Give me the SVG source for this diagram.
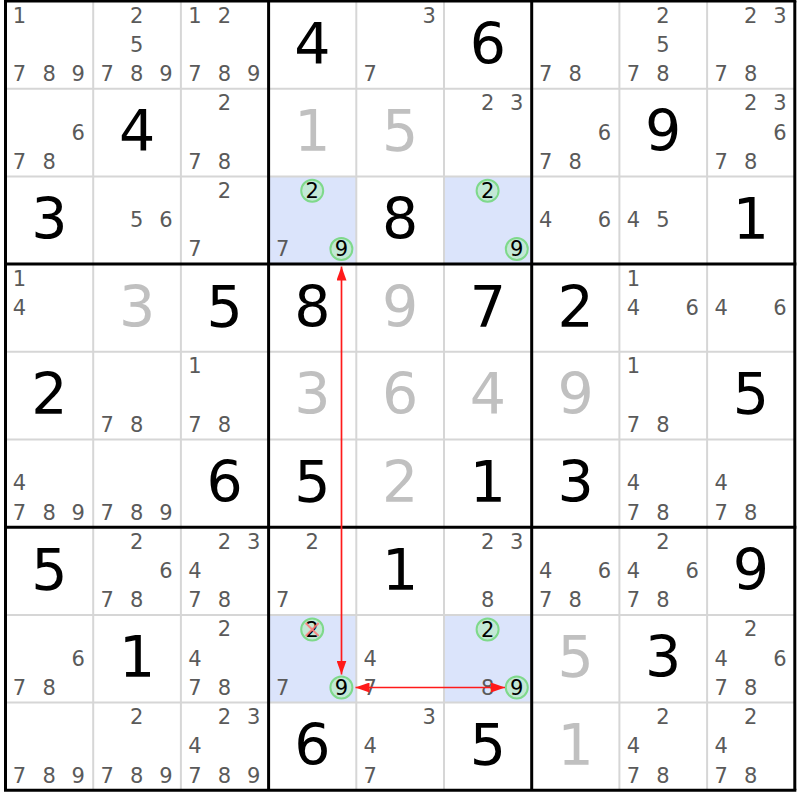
<svg xmlns="http://www.w3.org/2000/svg" width="800" height="800" viewBox="0 0 800 800">
<style>
text{font-family:"DejaVu Sans","Liberation Sans",sans-serif;text-anchor:middle}
.g{font-size:57px;fill:#000}
.s{font-size:57px;fill:#c0c0c0}
.c{font-size:21px;fill:#5a5a5a}
.k{font-size:21px;fill:#000}
.thin{stroke:#d6d6d6;stroke-width:2}
.thick{stroke:#000;stroke-width:3}
.hl{fill:#dbe4fb}
.ring{fill:#c3e8d6;stroke:#7fd98b;stroke-width:2}
.x{stroke:#ff7a7a;stroke-width:2;opacity:0.85}
.arrow{stroke:#ff1a1a;stroke-width:1.7;fill:none}
</style>
<defs>
<marker id="ah" markerUnits="userSpaceOnUse" markerWidth="14" markerHeight="10" refX="14" refY="5" orient="auto-start-reverse">
<path d="M0,0 L14,5 L0,10 z" fill="#ff1a1a"/>
</marker>
</defs>
<rect x="0" y="0" width="800" height="800" fill="#fff"/>
<g id="highlights">
<rect class="hl" x="268.6" y="176.4" width="87.7" height="87.7"/>
<rect class="hl" x="444" y="176.4" width="87.7" height="87.7"/>
<rect class="hl" x="268.6" y="614.9" width="87.7" height="87.7"/>
<rect class="hl" x="444" y="614.9" width="87.7" height="87.7"/>
</g>
<g id="grid">
<line class="thin" x1="93.2" y1="1" x2="93.2" y2="790.3"/>
<line class="thin" x1="180.9" y1="1" x2="180.9" y2="790.3"/>
<line class="thin" x1="356.3" y1="1" x2="356.3" y2="790.3"/>
<line class="thin" x1="444" y1="1" x2="444" y2="790.3"/>
<line class="thin" x1="619.4" y1="1" x2="619.4" y2="790.3"/>
<line class="thin" x1="707.1" y1="1" x2="707.1" y2="790.3"/>
<line class="thin" x1="5.5" y1="88.7" x2="794.8" y2="88.7"/>
<line class="thin" x1="5.5" y1="176.4" x2="794.8" y2="176.4"/>
<line class="thin" x1="5.5" y1="351.8" x2="794.8" y2="351.8"/>
<line class="thin" x1="5.5" y1="439.5" x2="794.8" y2="439.5"/>
<line class="thin" x1="5.5" y1="614.9" x2="794.8" y2="614.9"/>
<line class="thin" x1="5.5" y1="702.6" x2="794.8" y2="702.6"/>
<line class="thick" x1="5.5" y1="1" x2="5.5" y2="790.3"/>
<line class="thick" x1="268.6" y1="1" x2="268.6" y2="790.3"/>
<line class="thick" x1="531.7" y1="1" x2="531.7" y2="790.3"/>
<line class="thick" x1="794.8" y1="1" x2="794.8" y2="790.3"/>
<line class="thick" x1="4" y1="1" x2="796.3" y2="1"/>
<line class="thick" x1="4" y1="264.1" x2="796.3" y2="264.1"/>
<line class="thick" x1="4" y1="527.2" x2="796.3" y2="527.2"/>
<line class="thick" x1="4" y1="790.3" x2="796.3" y2="790.3"/>
</g>

<g id="r0c0" transform="translate(5.5,1)"><text class="c" x="14" y="21.6">1</text><text class="c" x="14" y="80.1">7</text><text class="c" x="43.6" y="80.1">8</text><text class="c" x="72.8" y="80.1">9</text></g>
<g id="r0c1" transform="translate(93.2,1)"><text class="c" x="43.6" y="21.6">2</text><text class="c" x="43.6" y="50.9">5</text><text class="c" x="14" y="80.1">7</text><text class="c" x="43.6" y="80.1">8</text><text class="c" x="72.8" y="80.1">9</text></g>
<g id="r0c2" transform="translate(180.9,1)"><text class="c" x="14" y="21.6">1</text><text class="c" x="43.6" y="21.6">2</text><text class="c" x="14" y="80.1">7</text><text class="c" x="43.6" y="80.1">8</text><text class="c" x="72.8" y="80.1">9</text></g>
<g id="r0c3" transform="translate(268.6,1)"><text class="g" x="43.85" y="62.5">4</text></g>
<g id="r0c4" transform="translate(356.3,1)"><text class="c" x="72.8" y="21.6">3</text><text class="c" x="14" y="80.1">7</text></g>
<g id="r0c5" transform="translate(444,1)"><text class="g" x="43.85" y="62.5">6</text></g>
<g id="r0c6" transform="translate(531.7,1)"><text class="c" x="14" y="80.1">7</text><text class="c" x="43.6" y="80.1">8</text></g>
<g id="r0c7" transform="translate(619.4,1)"><text class="c" x="43.6" y="21.6">2</text><text class="c" x="43.6" y="50.9">5</text><text class="c" x="14" y="80.1">7</text><text class="c" x="43.6" y="80.1">8</text></g>
<g id="r0c8" transform="translate(707.1,1)"><text class="c" x="43.6" y="21.6">2</text><text class="c" x="72.8" y="21.6">3</text><text class="c" x="14" y="80.1">7</text><text class="c" x="43.6" y="80.1">8</text></g>

<g id="r1c0" transform="translate(5.5,88.7)"><text class="c" x="72.8" y="50.9">6</text><text class="c" x="14" y="80.1">7</text><text class="c" x="43.6" y="80.1">8</text></g>
<g id="r1c1" transform="translate(93.2,88.7)"><text class="g" x="43.85" y="62.5">4</text></g>
<g id="r1c2" transform="translate(180.9,88.7)"><text class="c" x="43.6" y="21.6">2</text><text class="c" x="14" y="80.1">7</text><text class="c" x="43.6" y="80.1">8</text></g>
<g id="r1c3" transform="translate(268.6,88.7)"><text class="s" x="43.85" y="62.5">1</text></g>
<g id="r1c4" transform="translate(356.3,88.7)"><text class="s" x="43.85" y="62.5">5</text></g>
<g id="r1c5" transform="translate(444,88.7)"><text class="c" x="43.6" y="21.6">2</text><text class="c" x="72.8" y="21.6">3</text></g>
<g id="r1c6" transform="translate(531.7,88.7)"><text class="c" x="72.8" y="50.9">6</text><text class="c" x="14" y="80.1">7</text><text class="c" x="43.6" y="80.1">8</text></g>
<g id="r1c7" transform="translate(619.4,88.7)"><text class="g" x="43.85" y="62.5">9</text></g>
<g id="r1c8" transform="translate(707.1,88.7)"><text class="c" x="43.6" y="21.6">2</text><text class="c" x="72.8" y="21.6">3</text><text class="c" x="72.8" y="50.9">6</text><text class="c" x="14" y="80.1">7</text><text class="c" x="43.6" y="80.1">8</text></g>

<g id="r2c0" transform="translate(5.5,176.4)"><text class="g" x="43.85" y="62.5">3</text></g>
<g id="r2c1" transform="translate(93.2,176.4)"><text class="c" x="43.6" y="50.9">5</text><text class="c" x="72.8" y="50.9">6</text></g>
<g id="r2c2" transform="translate(180.9,176.4)"><text class="c" x="43.6" y="21.6">2</text><text class="c" x="14" y="80.1">7</text></g>
<g id="r2c3" transform="translate(268.6,176.4)"><circle class="ring" cx="43.6" cy="14.3" r="11"/><text class="k" x="43.6" y="21.9">2</text><text class="c" x="14" y="80.1">7</text><circle class="ring" cx="72.8" cy="72.6" r="11"/><text class="k" x="72.8" y="80.1">9</text></g>
<g id="r2c4" transform="translate(356.3,176.4)"><text class="g" x="43.85" y="62.5">8</text></g>
<g id="r2c5" transform="translate(444,176.4)"><circle class="ring" cx="43.6" cy="14.3" r="11"/><text class="k" x="43.6" y="21.9">2</text><circle class="ring" cx="72.8" cy="72.6" r="11"/><text class="k" x="72.8" y="80.1">9</text></g>
<g id="r2c6" transform="translate(531.7,176.4)"><text class="c" x="14" y="50.9">4</text><text class="c" x="72.8" y="50.9">6</text></g>
<g id="r2c7" transform="translate(619.4,176.4)"><text class="c" x="14" y="50.9">4</text><text class="c" x="43.6" y="50.9">5</text></g>
<g id="r2c8" transform="translate(707.1,176.4)"><text class="g" x="43.85" y="62.5">1</text></g>

<g id="r3c0" transform="translate(5.5,264.1)"><text class="c" x="14" y="21.6">1</text><text class="c" x="14" y="50.9">4</text></g>
<g id="r3c1" transform="translate(93.2,264.1)"><text class="s" x="43.85" y="62.5">3</text></g>
<g id="r3c2" transform="translate(180.9,264.1)"><text class="g" x="43.85" y="62.5">5</text></g>
<g id="r3c3" transform="translate(268.6,264.1)"><text class="g" x="43.85" y="62.5">8</text></g>
<g id="r3c4" transform="translate(356.3,264.1)"><text class="s" x="43.85" y="62.5">9</text></g>
<g id="r3c5" transform="translate(444,264.1)"><text class="g" x="43.85" y="62.5">7</text></g>
<g id="r3c6" transform="translate(531.7,264.1)"><text class="g" x="43.85" y="62.5">2</text></g>
<g id="r3c7" transform="translate(619.4,264.1)"><text class="c" x="14" y="21.6">1</text><text class="c" x="14" y="50.9">4</text><text class="c" x="72.8" y="50.9">6</text></g>
<g id="r3c8" transform="translate(707.1,264.1)"><text class="c" x="14" y="50.9">4</text><text class="c" x="72.8" y="50.9">6</text></g>

<g id="r4c0" transform="translate(5.5,351.8)"><text class="g" x="43.85" y="62.5">2</text></g>
<g id="r4c1" transform="translate(93.2,351.8)"><text class="c" x="14" y="80.1">7</text><text class="c" x="43.6" y="80.1">8</text></g>
<g id="r4c2" transform="translate(180.9,351.8)"><text class="c" x="14" y="21.6">1</text><text class="c" x="14" y="80.1">7</text><text class="c" x="43.6" y="80.1">8</text></g>
<g id="r4c3" transform="translate(268.6,351.8)"><text class="s" x="43.85" y="62.5">3</text></g>
<g id="r4c4" transform="translate(356.3,351.8)"><text class="s" x="43.85" y="62.5">6</text></g>
<g id="r4c5" transform="translate(444,351.8)"><text class="s" x="43.85" y="62.5">4</text></g>
<g id="r4c6" transform="translate(531.7,351.8)"><text class="s" x="43.85" y="62.5">9</text></g>
<g id="r4c7" transform="translate(619.4,351.8)"><text class="c" x="14" y="21.6">1</text><text class="c" x="14" y="80.1">7</text><text class="c" x="43.6" y="80.1">8</text></g>
<g id="r4c8" transform="translate(707.1,351.8)"><text class="g" x="43.85" y="62.5">5</text></g>

<g id="r5c0" transform="translate(5.5,439.5)"><text class="c" x="14" y="50.9">4</text><text class="c" x="14" y="80.1">7</text><text class="c" x="43.6" y="80.1">8</text><text class="c" x="72.8" y="80.1">9</text></g>
<g id="r5c1" transform="translate(93.2,439.5)"><text class="c" x="14" y="80.1">7</text><text class="c" x="43.6" y="80.1">8</text><text class="c" x="72.8" y="80.1">9</text></g>
<g id="r5c2" transform="translate(180.9,439.5)"><text class="g" x="43.85" y="62.5">6</text></g>
<g id="r5c3" transform="translate(268.6,439.5)"><text class="g" x="43.85" y="62.5">5</text></g>
<g id="r5c4" transform="translate(356.3,439.5)"><text class="s" x="43.85" y="62.5">2</text></g>
<g id="r5c5" transform="translate(444,439.5)"><text class="g" x="43.85" y="62.5">1</text></g>
<g id="r5c6" transform="translate(531.7,439.5)"><text class="g" x="43.85" y="62.5">3</text></g>
<g id="r5c7" transform="translate(619.4,439.5)"><text class="c" x="14" y="50.9">4</text><text class="c" x="14" y="80.1">7</text><text class="c" x="43.6" y="80.1">8</text></g>
<g id="r5c8" transform="translate(707.1,439.5)"><text class="c" x="14" y="50.9">4</text><text class="c" x="14" y="80.1">7</text><text class="c" x="43.6" y="80.1">8</text></g>

<g id="r6c0" transform="translate(5.5,527.2)"><text class="g" x="43.85" y="62.5">5</text></g>
<g id="r6c1" transform="translate(93.2,527.2)"><text class="c" x="43.6" y="21.6">2</text><text class="c" x="72.8" y="50.9">6</text><text class="c" x="14" y="80.1">7</text><text class="c" x="43.6" y="80.1">8</text></g>
<g id="r6c2" transform="translate(180.9,527.2)"><text class="c" x="43.6" y="21.6">2</text><text class="c" x="72.8" y="21.6">3</text><text class="c" x="14" y="50.9">4</text><text class="c" x="14" y="80.1">7</text><text class="c" x="43.6" y="80.1">8</text></g>
<g id="r6c3" transform="translate(268.6,527.2)"><text class="c" x="43.6" y="21.6">2</text><text class="c" x="14" y="80.1">7</text></g>
<g id="r6c4" transform="translate(356.3,527.2)"><text class="g" x="43.85" y="62.5">1</text></g>
<g id="r6c5" transform="translate(444,527.2)"><text class="c" x="43.6" y="21.6">2</text><text class="c" x="72.8" y="21.6">3</text><text class="c" x="43.6" y="80.1">8</text></g>
<g id="r6c6" transform="translate(531.7,527.2)"><text class="c" x="14" y="50.9">4</text><text class="c" x="72.8" y="50.9">6</text><text class="c" x="14" y="80.1">7</text><text class="c" x="43.6" y="80.1">8</text></g>
<g id="r6c7" transform="translate(619.4,527.2)"><text class="c" x="43.6" y="21.6">2</text><text class="c" x="14" y="50.9">4</text><text class="c" x="72.8" y="50.9">6</text><text class="c" x="14" y="80.1">7</text><text class="c" x="43.6" y="80.1">8</text></g>
<g id="r6c8" transform="translate(707.1,527.2)"><text class="g" x="43.85" y="62.5">9</text></g>

<g id="r7c0" transform="translate(5.5,614.9)"><text class="c" x="72.8" y="50.9">6</text><text class="c" x="14" y="80.1">7</text><text class="c" x="43.6" y="80.1">8</text></g>
<g id="r7c1" transform="translate(93.2,614.9)"><text class="g" x="43.85" y="62.5">1</text></g>
<g id="r7c2" transform="translate(180.9,614.9)"><text class="c" x="43.6" y="21.6">2</text><text class="c" x="14" y="50.9">4</text><text class="c" x="14" y="80.1">7</text><text class="c" x="43.6" y="80.1">8</text></g>
<g id="r7c3" transform="translate(268.6,614.9)"><circle class="ring" cx="43.6" cy="14.6" r="11"/><text class="k" x="43.6" y="22.2">2</text><line class="x" x1="37.1" y1="8.1" x2="50.1" y2="21.1"/><line class="x" x1="37.1" y1="21.1" x2="50.1" y2="8.1"/><text class="c" x="14" y="80.1">7</text><circle class="ring" cx="72.8" cy="72.6" r="11"/><text class="k" x="72.8" y="80.1">9</text></g>
<g id="r7c4" transform="translate(356.3,614.9)"><text class="c" x="14" y="50.9">4</text><text class="c" x="14" y="80.1">7</text></g>
<g id="r7c5" transform="translate(444,614.9)"><circle class="ring" cx="43.6" cy="14.6" r="11"/><text class="k" x="43.6" y="22.2">2</text><text class="c" x="43.6" y="80.1">8</text><circle class="ring" cx="72.8" cy="72.6" r="11"/><text class="k" x="72.8" y="80.1">9</text></g>
<g id="r7c6" transform="translate(531.7,614.9)"><text class="s" x="43.85" y="62.5">5</text></g>
<g id="r7c7" transform="translate(619.4,614.9)"><text class="g" x="43.85" y="62.5">3</text></g>
<g id="r7c8" transform="translate(707.1,614.9)"><text class="c" x="43.6" y="21.6">2</text><text class="c" x="14" y="50.9">4</text><text class="c" x="72.8" y="50.9">6</text><text class="c" x="14" y="80.1">7</text><text class="c" x="43.6" y="80.1">8</text></g>

<g id="r8c0" transform="translate(5.5,702.6)"><text class="c" x="14" y="80.1">7</text><text class="c" x="43.6" y="80.1">8</text><text class="c" x="72.8" y="80.1">9</text></g>
<g id="r8c1" transform="translate(93.2,702.6)"><text class="c" x="43.6" y="21.6">2</text><text class="c" x="14" y="80.1">7</text><text class="c" x="43.6" y="80.1">8</text><text class="c" x="72.8" y="80.1">9</text></g>
<g id="r8c2" transform="translate(180.9,702.6)"><text class="c" x="43.6" y="21.6">2</text><text class="c" x="72.8" y="21.6">3</text><text class="c" x="14" y="50.9">4</text><text class="c" x="14" y="80.1">7</text><text class="c" x="43.6" y="80.1">8</text><text class="c" x="72.8" y="80.1">9</text></g>
<g id="r8c3" transform="translate(268.6,702.6)"><text class="g" x="43.85" y="62.5">6</text></g>
<g id="r8c4" transform="translate(356.3,702.6)"><text class="c" x="72.8" y="21.6">3</text><text class="c" x="14" y="50.9">4</text><text class="c" x="14" y="80.1">7</text></g>
<g id="r8c5" transform="translate(444,702.6)"><text class="g" x="43.85" y="62.5">5</text></g>
<g id="r8c6" transform="translate(531.7,702.6)"><text class="s" x="43.85" y="62.5">1</text></g>
<g id="r8c7" transform="translate(619.4,702.6)"><text class="c" x="43.6" y="21.6">2</text><text class="c" x="14" y="50.9">4</text><text class="c" x="14" y="80.1">7</text><text class="c" x="43.6" y="80.1">8</text></g>
<g id="r8c8" transform="translate(707.1,702.6)"><text class="c" x="43.6" y="21.6">2</text><text class="c" x="14" y="50.9">4</text><text class="c" x="14" y="80.1">7</text><text class="c" x="43.6" y="80.1">8</text></g>

<g id="connectors">
<line class="arrow" x1="341.5" y1="266.5" x2="341.5" y2="674.5" marker-start="url(#ah)" marker-end="url(#ah)"/>
<line class="arrow" x1="355.5" y1="687.5" x2="505" y2="687.5" marker-start="url(#ah)" marker-end="url(#ah)"/>
</g>
</svg>
